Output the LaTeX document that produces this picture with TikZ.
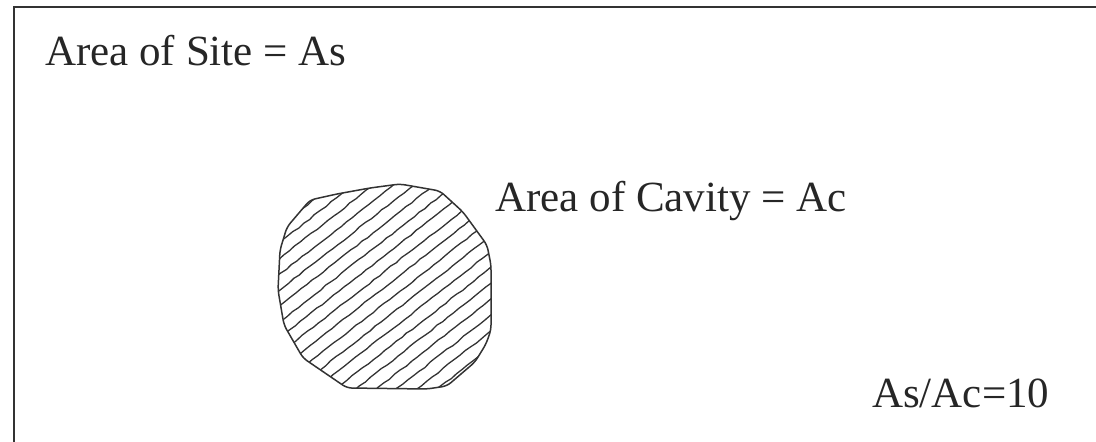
\documentclass[tikz,border=0pt]{standalone}
\usepackage{fontspec}
\setmainfont{Liberation Serif}
\usetikzlibrary{decorations.pathmorphing}

\begin{document}
\begin{tikzpicture}[
  x=1pt, y=1pt,
  lbl/.style={inner sep=0pt, anchor=base west, font=\fontsize{43}{48}\selectfont, text=black!85},
  frame/.style={draw=black!80, line width=2.5pt},
  blob/.style={draw=black!80, line width=1.5pt, rounded corners=5pt},
  hatch/.style={draw=black!80, line width=1.3pt,
                decorate, decoration={random steps, segment length=7pt, amplitude=0.6pt}}
]
\useasboundingbox (0,0) rectangle (1096,442);
\clip (0,0) rectangle (1096,442);
\pgfmathsetseed{7}
\draw[frame] (14,435) rectangle (1110,-3);

\node[lbl] (sitelbl)  at (45,376)  {Area of Site = As};
\node[lbl] (cavlbl)   at (495,230) {Area of Cavity = Ac};
\node[lbl] (ratiolbl) at (872,34)  {As/Ac=10};

\begin{scope}
  \clip (287,215) -- (310,242) -- (337,248) -- (370,254) -- (400,258) -- (440,251)
        -- (463,230) -- (487,197) -- (491,177) -- (491,112) -- (486,98) -- (475,80)
        -- (447,56) -- (427,53) -- (347,54) -- (303,84) -- (284,117) -- (278,152)
        -- (280,192) -- cycle;
  \begin{scope}[shift={(385,155)}, rotate=38]
    \foreach \k in {-13,...,13}
      \draw[hatch] (-200,\k*12.5) -- (200,\k*12.5);
  \end{scope}
\end{scope}
\draw[blob] (287,215) -- (310,242) -- (337,248) -- (370,254) -- (400,258) -- (440,251)
        -- (463,230) -- (487,197) -- (491,177) -- (491,112) -- (486,98) -- (475,80)
        -- (447,56) -- (427,53) -- (347,54) -- (303,84) -- (284,117) -- (278,152)
        -- (280,192) -- cycle;
\end{tikzpicture}
\end{document}
